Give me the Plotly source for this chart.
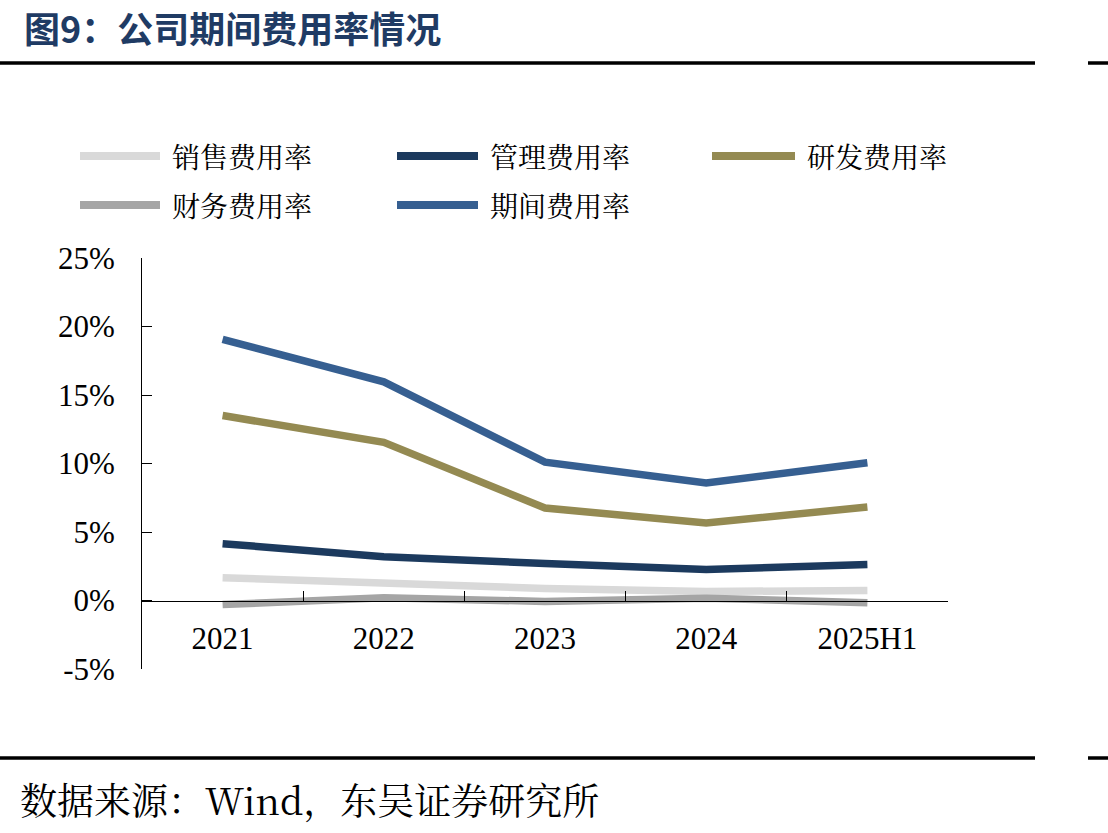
import plotly.graph_objects as go

# ---- data ----
categories = ["2021", "2022", "2023", "2024", "2025H1"]
series_names = ["销售费用率", "管理费用率", "研发费用率", "财务费用率", "期间费用率"]
sales_rate = [1.66, 1.22, 0.88, 0.66, 0.73]
admin_rate = [4.15, 3.2, 2.7, 2.27, 2.63]
rd_rate = [13.5, 11.55, 6.75, 5.65, 6.82]
fin_rate = [-0.3, 0.2, -0.07, 0.17, -0.17]
period_rate = [19.06, 15.96, 10.1, 8.58, 10.06]
y_ticks = [-5, 0, 5, 10, 15, 20, 25]
y_tick_labels = ["-5%", "0%", "5%", "10%", "15%", "20%", "25%"]

series_values = [sales_rate, admin_rate, rd_rate, fin_rate, period_rate]
colors = ["#D9D9D9", "#1C3A5E", "#948A52", "#A5A5A5", "#365F91"]

# ---- layout geometry (pixels) ----
W, H = 1108, 833
L, R, T, B = 142, 948, 258, 669
pw, ph = R - L, B - T


def px(x):
    return (x - L) / pw


def py(y):
    return (B - y) / ph


ymin, ymax = -5, 25
serif = "Liberation Serif, Times New Roman, Noto Sans CJK SC"
cjk = "Noto Serif CJK SC, Noto Sans CJK SC, serif"

fig = go.Figure()
for name, vals, c in zip(series_names, series_values, colors):
    fig.add_trace(go.Scatter(
        x=categories, y=vals, mode="lines", name=name,
        line=dict(color=c, width=7.5), showlegend=False,
        hoverinfo="skip",
    ))

shapes = []
annotations = []

# manual legend (3 columns, 2 rows)
legend_cols = [(80, 160, 170), (397, 478, 488), (712, 795, 805)]
legend_rows = [156, 205]
for i, (name, c) in enumerate(zip(series_names, colors)):
    r, col = divmod(i, 3)
    x0, x1, tx = legend_cols[col]
    yy = legend_rows[r]
    shapes.append(dict(type="line", xref="paper", yref="paper",
                       x0=px(x0), x1=px(x1), y0=py(yy), y1=py(yy),
                       line=dict(color=c, width=8)))
    annotations.append(dict(text=name, xref="paper", yref="paper",
                            x=px(tx), y=py(yy), xanchor="left", yanchor="middle",
                            showarrow=False, font=dict(family=cjk, size=28, color="#000000")))

# header/footer rules
for yy in (63, 758):
    shapes.append(dict(type="line", xref="paper", yref="paper",
                       x0=px(0), x1=px(1035), y0=py(yy), y1=py(yy),
                       line=dict(color="#000000", width=3.5)))
    shapes.append(dict(type="line", xref="paper", yref="paper",
                       x0=px(1088), x1=px(1108), y0=py(yy), y1=py(yy),
                       line=dict(color="#000000", width=3.5)))

# title
annotations.append(dict(text="<b>图9：公司期间费用率情况</b>", xref="paper", yref="paper",
                        x=px(22), y=py(27), xanchor="left", yanchor="middle",
                        showarrow=False,
                        font=dict(family="Noto Sans CJK SC", size=36, color="#1F3B64")))
# source
annotations.append(dict(text="数据来源：Wind，东吴证券研究所", xref="paper", yref="paper",
                        x=px(18), y=py(799), xanchor="left", yanchor="middle",
                        showarrow=False,
                        font=dict(family=cjk, size=37, color="#000000")))

fig.update_layout(
    width=W, height=H,
    margin=dict(l=L, r=W - R, t=T, b=H - B, pad=0),
    paper_bgcolor="white", plot_bgcolor="white",
    shapes=shapes, annotations=annotations,
    xaxis=dict(
        type="category", range=[-0.5, len(categories) - 0.5],
        anchor="free", position=(0 - ymin) / (ymax - ymin),
        showline=True, linecolor="#000000", linewidth=1,
        ticks="inside", ticklen=10, tickcolor="#000000", tickwidth=1,
        tickson="boundaries", showgrid=False, zeroline=False,
        tickfont=dict(family=serif, size=31, color="#000000"),
        ticklabelstandoff=10,
    ),
    yaxis=dict(
        range=[ymin, ymax], tickmode="array", tickvals=y_ticks, ticktext=y_tick_labels,
        showline=True, linecolor="#000000", linewidth=1,
        ticks="inside", ticklen=10, tickcolor="#000000", tickwidth=1,
        showgrid=False, zeroline=False,
        tickfont=dict(family=serif, size=31, color="#000000"),
        ticklabelstandoff=20,
    ),
)

fig.write_html("out.html")
